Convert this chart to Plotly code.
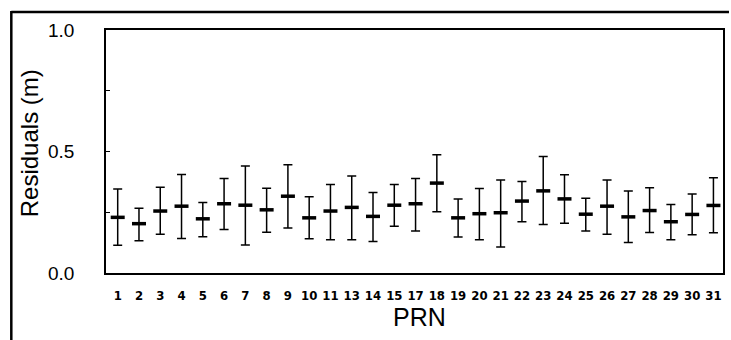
import plotly.graph_objects as go

prn = ["1", "2", "3", "4", "5", "6", "7", "8", "9", "10", "11", "13", "14", "15",
       "17", "18", "19", "20", "21", "22", "23", "24", "25", "26", "27", "28", "29", "30", "31"]
center = [0.229, 0.203, 0.255, 0.275, 0.223, 0.285, 0.279, 0.260, 0.316, 0.227, 0.255, 0.270, 0.233, 0.279,
          0.285, 0.370, 0.227, 0.244, 0.248, 0.296, 0.338, 0.305, 0.242, 0.275, 0.231, 0.257, 0.211, 0.241, 0.278]
upper = [0.346, 0.266, 0.353, 0.405, 0.290, 0.389, 0.440, 0.349, 0.445, 0.314, 0.364, 0.399, 0.331, 0.364,
         0.389, 0.487, 0.305, 0.348, 0.383, 0.377, 0.479, 0.404, 0.308, 0.383, 0.337, 0.351, 0.282, 0.325, 0.392]
lower = [0.114, 0.133, 0.159, 0.142, 0.149, 0.179, 0.115, 0.168, 0.185, 0.141, 0.137, 0.137, 0.130, 0.192,
         0.173, 0.252, 0.148, 0.137, 0.107, 0.211, 0.200, 0.205, 0.173, 0.159, 0.126, 0.167, 0.137, 0.157, 0.166]

err_plus = [u - c for u, c in zip(upper, center)]
err_minus = [c - l for c, l in zip(center, lower)]

fig = go.Figure()
fig.add_trace(go.Scatter(
    x=list(range(len(prn))), y=center, mode="markers",
    marker=dict(symbol="line-ew", size=10, color="black",
                line=dict(width=3.5, color="black")),
    error_y=dict(type="data", symmetric=False, array=err_plus, arrayminus=err_minus,
                 color="black", thickness=1.5, width=4.5),
    showlegend=False,
))

L, R, T, B = 106, 6, 30, 67
W, H = 731, 340
pw, ph = W - L - R, H - T - B

def px(x):
    return (x - L) / pw

def py(y):
    return (H - B - y) / ph

fig.update_layout(
    width=W, height=H,
    margin=dict(l=L, r=R, t=T, b=B),
    paper_bgcolor="white", plot_bgcolor="white",
    font=dict(family="Liberation Sans, Arial, sans-serif", color="black"),
    xaxis=dict(
        range=[-0.55, 28.45], tickmode="array",
        tickvals=list(range(len(prn))), ticktext=prn,
        showgrid=False, zeroline=False, ticks="",
        showline=True, linecolor="black", linewidth=1.5, mirror=True,
        tickfont=dict(family="Liberation Sans Narrow, Arial Narrow, DejaVu Sans Condensed, sans-serif",
                      size=13, color="black", weight="bold"),
        ticklabelstandoff=10,
    ),
    yaxis=dict(
        range=[0, 1.0], tickvals=[0, 0.5, 1.0], tickformat=".1f",
        showgrid=False, zeroline=False,
        ticks="inside", ticklen=4, tickwidth=1, tickcolor="black",
        minor=dict(dtick=0.25, ticks="inside", ticklen=4, tickwidth=1, tickcolor="black"),
        showline=True, linecolor="black", linewidth=1.5, mirror=True,
        tickfont=dict(size=19, color="black"),
        ticklabelstandoff=26,
    ),
    annotations=[
        dict(text="Residuals (m)", xref="paper", yref="paper", x=px(29), y=py(143),
             xanchor="center", yanchor="middle", textangle=-90, showarrow=False,
             font=dict(size=24, color="black")),
        dict(text="PRN", xref="paper", yref="paper", x=px(421), y=py(317),
             xanchor="center", yanchor="middle", showarrow=False,
             font=dict(size=25, color="black")),
    ],
    shapes=[
        dict(type="line", xref="paper", yref="paper", x0=px(11), x1=px(731), y0=py(12), y1=py(12),
             line=dict(color="black", width=2.5)),
        dict(type="line", xref="paper", yref="paper", x0=px(11), x1=px(11), y0=py(11), y1=py(340),
             line=dict(color="black", width=2.5)),
    ],
)

fig.write_html("out.html")
